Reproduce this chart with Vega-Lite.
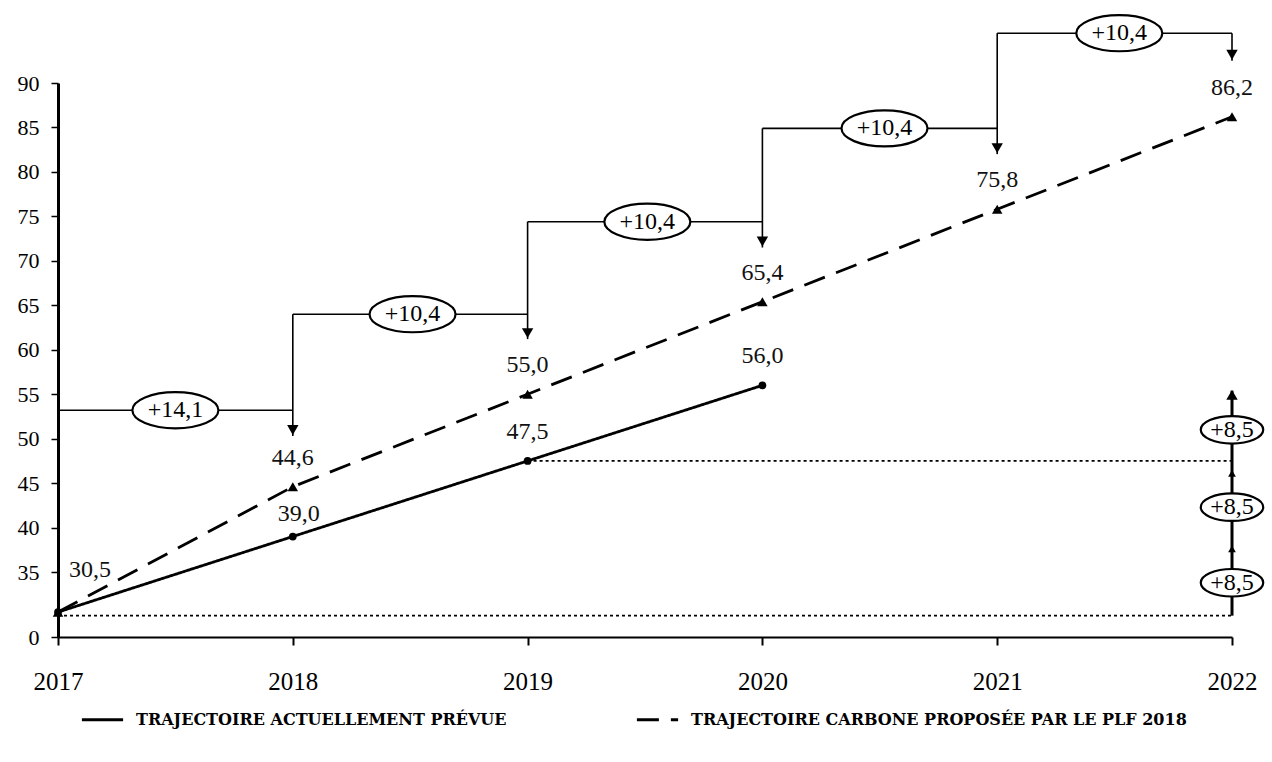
{
  "$schema": "https://vega.github.io/schema/vega-lite/v6.json",
  "width": 1174,
  "height": 554,
  "autosize": {"type": "none"},
  "padding": {"left": 58, "top": 83, "right": 40, "bottom": 125},
  "background": "white",
  "config": {
    "view": {"stroke": null},
    "font": "Liberation Serif",
    "locale": {"number": {"decimal": ",", "thousands": " ", "grouping": [3], "currency": ["", " €"]}}
  },
  "datasets": {
    "series": [
      {"year": 2017, "value": 30.5, "serie": "TRAJECTOIRE ACTUELLEMENT PRÉVUE"},
      {"year": 2018, "value": 39.0, "serie": "TRAJECTOIRE ACTUELLEMENT PRÉVUE"},
      {"year": 2019, "value": 47.5, "serie": "TRAJECTOIRE ACTUELLEMENT PRÉVUE"},
      {"year": 2020, "value": 56.0, "serie": "TRAJECTOIRE ACTUELLEMENT PRÉVUE"},
      {"year": 2017, "value": 30.5, "serie": "TRAJECTOIRE CARBONE PROPOSÉE PAR LE PLF 2018"},
      {"year": 2018, "value": 44.6, "serie": "TRAJECTOIRE CARBONE PROPOSÉE PAR LE PLF 2018"},
      {"year": 2019, "value": 55.0, "serie": "TRAJECTOIRE CARBONE PROPOSÉE PAR LE PLF 2018"},
      {"year": 2020, "value": 65.4, "serie": "TRAJECTOIRE CARBONE PROPOSÉE PAR LE PLF 2018"},
      {"year": 2021, "value": 75.8, "serie": "TRAJECTOIRE CARBONE PROPOSÉE PAR LE PLF 2018"},
      {"year": 2022, "value": 86.2, "serie": "TRAJECTOIRE CARBONE PROPOSÉE PAR LE PLF 2018"}
    ],
    "steps": [
      {"year": 2017, "value": 53.2, "year2": 2018, "value2": 53.2},
      {"year": 2018, "value": 64.0, "year2": 2018, "value2": 50.3},
      {"year": 2018, "value": 64.0, "year2": 2019, "value2": 64.0},
      {"year": 2019, "value": 74.4, "year2": 2019, "value2": 61.2},
      {"year": 2019, "value": 74.4, "year2": 2020, "value2": 74.4},
      {"year": 2020, "value": 84.9, "year2": 2020, "value2": 71.5},
      {"year": 2020, "value": 84.9, "year2": 2021, "value2": 84.9},
      {"year": 2021, "value": 95.6, "year2": 2021, "value2": 82.0},
      {"year": 2021, "value": 95.6, "year2": 2022, "value2": 95.6},
      {"year": 2022, "value": 95.6, "year2": 2022, "value2": 92.5}
    ],
    "arrowsDown": [
      {"year": 2018, "value": 50.3},
      {"year": 2019, "value": 61.2},
      {"year": 2020, "value": 71.5},
      {"year": 2021, "value": 82.0},
      {"year": 2022, "value": 92.5}
    ],
    "dotted": [
      {"year": 2017, "value": 30.1, "year2": 2022, "value2": 30.1},
      {"year": 2019, "value": 47.5, "year2": 2022, "value2": 47.5}
    ],
    "bar2022": [
      {"year": 2022, "value": 30.1, "year2": 2022, "value2": 55.4}
    ],
    "arrowsUp": [
      {"year": 2022, "value": 55.6, "kind": "big"},
      {"year": 2022, "value": 46.1, "kind": "small"},
      {"year": 2022, "value": 37.6, "kind": "small"}
    ],
    "bubbles": [
      {"year": 2017.5, "value": 53.2, "label": "+14,1", "kind": "big"},
      {"year": 2018.51, "value": 64.0, "label": "+10,4", "kind": "big"},
      {"year": 2019.51, "value": 74.4, "label": "+10,4", "kind": "big"},
      {"year": 2020.52, "value": 84.9, "label": "+10,4", "kind": "big"},
      {"year": 2021.52, "value": 95.6, "label": "+10,4", "kind": "big"},
      {"year": 2022, "value": 51.0, "label": "+8,5", "kind": "small"},
      {"year": 2022, "value": 42.3, "label": "+8,5", "kind": "small"},
      {"year": 2022, "value": 33.8, "label": "+8,5", "kind": "small"}
    ]
  },
  "encoding": {
    "x": {
      "field": "year", "type": "quantitative",
      "scale": {"domain": [2017, 2022], "nice": false, "zero": false},
      "axis": {
        "title": null, "values": [2017, 2018, 2019, 2020, 2021, 2022], "format": "d",
        "grid": false, "domainColor": "black", "domainWidth": 2, "tickColor": "black",
        "tickSize": 8, "tickWidth": 2, "labelFont": "Liberation Serif", "labelFontSize": 25,
        "labelColor": "black", "labelPadding": 24, "labelFlush": false, "labelOverlap": false
      }
    },
    "y": {
      "field": "value", "type": "quantitative",
      "scale": {"domain": [27.7, 90], "nice": false, "zero": false},
      "axis": {
        "title": null, "values": [27.7, 35, 40, 45, 50, 55, 60, 65, 70, 75, 80, 85, 90],
        "labelExpr": "datum.value < 30 ? '0' : format(datum.value, 'd')",
        "grid": false, "domainColor": "black", "domainWidth": 3, "tickColor": "black",
        "tickSize": 7, "tickWidth": 1.5, "labelFont": "Liberation Serif", "labelFontSize": 22,
        "labelColor": "black", "labelPadding": 12, "labelFlush": false, "labelOverlap": false
      }
    }
  },
  "layer": [
    {
      "data": {"name": "dotted"},
      "mark": {"type": "rule", "color": "black", "strokeWidth": 1.8, "strokeDash": [3, 3]},
      "encoding": {"x2": {"field": "year2"}, "y2": {"field": "value2"}}
    },
    {
      "data": {"name": "steps"},
      "mark": {"type": "rule", "color": "black", "strokeWidth": 1.6},
      "encoding": {"x2": {"field": "year2"}, "y2": {"field": "value2"}}
    },
    {
      "data": {"name": "arrowsDown"},
      "mark": {"type": "point", "shape": "triangle-down", "filled": true, "color": "black", "size": 130, "opacity": 1, "yOffset": -6}
    },
    {
      "data": {"name": "bar2022"},
      "mark": {"type": "rule", "color": "black", "strokeWidth": 3},
      "encoding": {"x2": {"field": "year2"}, "y2": {"field": "value2"}}
    },
    {
      "data": {"name": "arrowsUp"},
      "transform": [{"filter": "datum.kind == 'big'"}],
      "mark": {"type": "point", "shape": "triangle-up", "filled": true, "color": "black", "size": 130, "opacity": 1, "yOffset": 6}
    },
    {
      "data": {"name": "arrowsUp"},
      "transform": [{"filter": "datum.kind == 'small'"}],
      "mark": {"type": "point", "shape": "triangle-up", "filled": true, "color": "black", "size": 60, "opacity": 1}
    },
    {
      "data": {"name": "series"},
      "mark": {"type": "line", "color": "black", "strokeWidth": 2.8},
      "encoding": {
        "strokeDash": {
          "field": "serie", "type": "nominal",
          "scale": {
            "domain": ["TRAJECTOIRE ACTUELLEMENT PRÉVUE", "TRAJECTOIRE CARBONE PROPOSÉE PAR LE PLF 2018"],
            "range": [[1, 0], [22, 12]]
          },
          "legend": {
            "title": null, "orient": "none", "legendX": 22, "legendY": 614,
            "direction": "horizontal", "columns": 2, "columnPadding": 124,
            "labelFont": "DejaVu Serif", "labelFontSize": 16, "labelFontWeight": "bold",
            "labelColor": "black", "labelLimit": 1000, "labelOffset": 11,
            "symbolType": "stroke", "symbolSize": 1700, "symbolStrokeColor": "black",
            "symbolStrokeWidth": 2.8, "padding": 0
          }
        }
      }
    },
    {
      "data": {"name": "series"},
      "transform": [{"filter": "datum.serie == 'TRAJECTOIRE ACTUELLEMENT PRÉVUE'"}],
      "mark": {"type": "point", "shape": "circle", "filled": true, "color": "black", "size": 60, "opacity": 1}
    },
    {
      "data": {"name": "series"},
      "transform": [{"filter": "datum.serie != 'TRAJECTOIRE ACTUELLEMENT PRÉVUE'"}],
      "mark": {"type": "point", "shape": "triangle-up", "filled": true, "color": "black", "size": 110, "opacity": 1}
    },
    {
      "data": {"name": "series"},
      "transform": [{"filter": "datum.year > 2017 && !(datum.year == 2018 && datum.serie == 'TRAJECTOIRE ACTUELLEMENT PRÉVUE')"}],
      "mark": {"type": "text", "font": "Liberation Serif", "fontSize": 24, "color": "#111", "baseline": "middle", "align": "center", "dy": -29},
      "encoding": {"text": {"field": "value", "type": "quantitative", "format": ".1f"}}
    },
    {
      "data": {"name": "series"},
      "transform": [{"filter": "datum.year == 2018 && datum.serie == 'TRAJECTOIRE ACTUELLEMENT PRÉVUE'"}],
      "mark": {"type": "text", "font": "Liberation Serif", "fontSize": 24, "color": "#111", "baseline": "middle", "align": "center", "dx": 6, "dy": -23},
      "encoding": {"text": {"field": "value", "type": "quantitative", "format": ".1f"}}
    },
    {
      "data": {"name": "series"},
      "transform": [{"filter": "datum.year == 2017 && datum.serie == 'TRAJECTOIRE ACTUELLEMENT PRÉVUE'"}],
      "mark": {"type": "text", "font": "Liberation Serif", "fontSize": 24, "color": "#111", "baseline": "middle", "align": "center", "dx": 32, "dy": -42},
      "encoding": {"text": {"field": "value", "type": "quantitative", "format": ".1f"}}
    },
    {
      "data": {"name": "bubbles"},
      "transform": [{"filter": "datum.kind == 'big'"}],
      "mark": {"type": "point", "shape": "M-1,0A1,0.42,0,1,0,1,0A1,0.42,0,1,0,-1,0Z", "size": 7400, "fill": "white", "stroke": "black", "strokeWidth": 2.2, "opacity": 1, "fillOpacity": 1}
    },
    {
      "data": {"name": "bubbles"},
      "transform": [{"filter": "datum.kind == 'small'"}],
      "mark": {"type": "point", "shape": "M-1,0A1,0.44,0,1,0,1,0A1,0.44,0,1,0,-1,0Z", "size": 3900, "fill": "white", "stroke": "black", "strokeWidth": 2.2, "opacity": 1, "fillOpacity": 1}
    },
    {
      "data": {"name": "bubbles"},
      "mark": {"type": "text", "font": "Liberation Serif", "fontSize": 24, "color": "black", "baseline": "middle", "align": "center"},
      "encoding": {"text": {"field": "label", "type": "nominal"}}
    }
  ]
}
